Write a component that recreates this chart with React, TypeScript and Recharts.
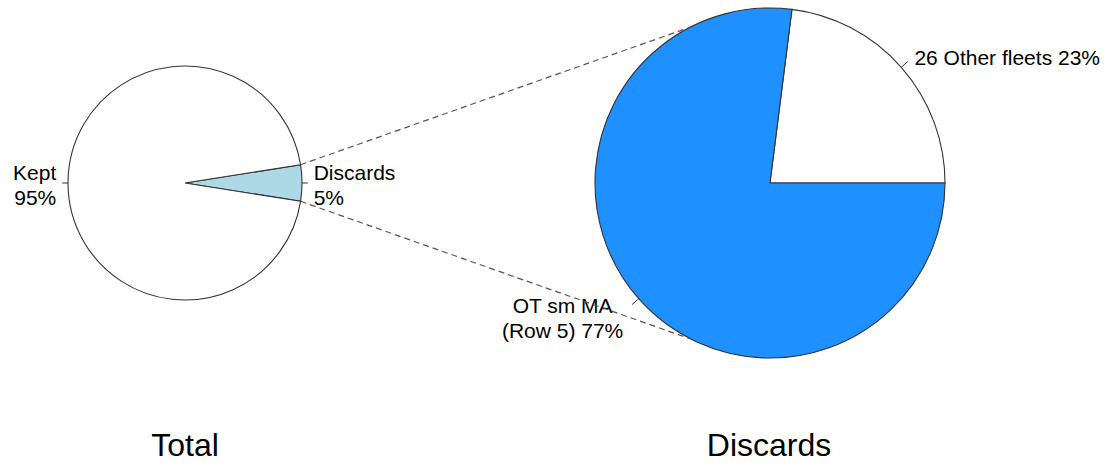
import { PieChart, Pie, Cell } from "recharts"

const W = 1118
const H = 463
const FONT = "'Liberation Sans', Arial, sans-serif"

// total catch split
const totalNames = ["Discards", "Kept"]
const totalValues = [5, 95]
const totalLabels = [["Discards", "5%"], ["Kept", "95%"]]
const totalColors = ["#add8e6", "#ffffff"]

// discards split by fleet
const discardNames = ["26 Other fleets", "OT sm MA (Row 5)"]
const discardValues = [23, 77]
const discardLabels = [["26 Other fleets 23%"], ["OT sm MA", "(Row 5) 77%"]]
const discardColors = ["#ffffff", "#1e90ff"]

const titles = ["Total", "Discards"]

const LEFT = { cx: 185, cy: 183, r: 117 }
const RIGHT = { cx: 770, cy: 183, r: 175 }
const ZOOM_ANGLE = 117
const RAD = Math.PI / 180

const totalData = totalNames.map((name, i) => ({ name, value: totalValues[i] }))
const discardData = discardNames.map((name, i) => ({ name, value: discardValues[i] }))

function makeLabel(labels: string[][], centered: boolean[]) {
  return (p: any) => {
    const { cx, cy, midAngle, outerRadius, index } = p
    const c = Math.cos(-midAngle * RAD)
    const s = Math.sin(-midAngle * RAD)
    const x1 = cx + outerRadius * c
    const y1 = cy + outerRadius * s
    const x2 = cx + outerRadius * 1.05 * c
    const y2 = cy + outerRadius * 1.05 * s
    const tx = cx + outerRadius * 1.1 * c
    const ty = cy + outerRadius * 1.1 * s
    const lines = labels[index]
    const lh = 25
    let first = ty - ((lines.length - 1) * lh) / 2 + 9
    let anchor: any = c < 0 ? "end" : "start"
    let ax = tx
    if (centered[index]) {
      anchor = "middle"
      ax = tx - 63
      first += 6
    }
    return (
      <g key={"lbl" + index}>
        <line x1={x1} y1={y1} x2={x2} y2={y2} stroke="#333" strokeWidth={1} />
        <text x={ax} y={first} textAnchor={anchor} fontSize={21} fontFamily={FONT} fill="#000">
          {lines.map((t, i) => (
            <tspan key={i} x={ax} y={first + i * lh}>
              {t}
            </tspan>
          ))}
        </text>
      </g>
    )
  }
}

export default function App() {
  const half = (totalValues[0] / (totalValues[0] + totalValues[1])) * 180
  const pt = (o: typeof LEFT, a: number) => [o.cx + o.r * Math.cos(a * RAD), o.cy - o.r * Math.sin(a * RAD)]
  const [ax1, ay1] = pt(LEFT, half)
  const [ax2, ay2] = pt(LEFT, -half)
  const [bx1, by1] = pt(RIGHT, ZOOM_ANGLE)
  const [bx2, by2] = pt(RIGHT, -ZOOM_ANGLE)

  return (
    <div style={{ position: "absolute", left: 0, top: 0, width: W, height: H, background: "#fff" }}>
      <PieChart width={W} height={H} margin={{ top: 0, right: 0, bottom: 0, left: 0 }}>
        <Pie
          data={totalData}
          dataKey="value"
          nameKey="name"
          cx={LEFT.cx}
          cy={LEFT.cy}
          outerRadius={LEFT.r}
          startAngle={-half}
          endAngle={360 - half}
          isAnimationActive={false}
          label={makeLabel(totalLabels, [false, false])}
          labelLine={false}
        >
          {totalData.map((_, i) => (
            <Cell key={i} fill={totalColors[i]} stroke="#333" strokeWidth={1.1} />
          ))}
        </Pie>
        <Pie
          data={discardData}
          dataKey="value"
          nameKey="name"
          cx={RIGHT.cx}
          cy={RIGHT.cy}
          outerRadius={RIGHT.r}
          startAngle={0}
          endAngle={360}
          isAnimationActive={false}
          label={makeLabel(discardLabels, [false, true])}
          labelLine={false}
        >
          {discardData.map((_, i) => (
            <Cell key={i} fill={discardColors[i]} stroke="#333" strokeWidth={1.1} />
          ))}
        </Pie>
      </PieChart>
      <svg width={W} height={H} style={{ position: "absolute", left: 0, top: 0, pointerEvents: "none" }}>
        <line x1={ax1} y1={ay1} x2={bx1} y2={by1} stroke="#555" strokeWidth={1.2} strokeDasharray="6 4" />
        <line x1={ax2} y1={ay2} x2={bx2} y2={by2} stroke="#555" strokeWidth={1.2} strokeDasharray="6 4" />
        <text x={LEFT.cx} y={456} textAnchor="middle" fontSize={32} fontFamily={FONT} fill="#000">
          {titles[0]}
        </text>
        <text x={RIGHT.cx - 1} y={456} textAnchor="middle" fontSize={32} fontFamily={FONT} fill="#000">
          {titles[1]}
        </text>
      </svg>
    </div>
  )
}
